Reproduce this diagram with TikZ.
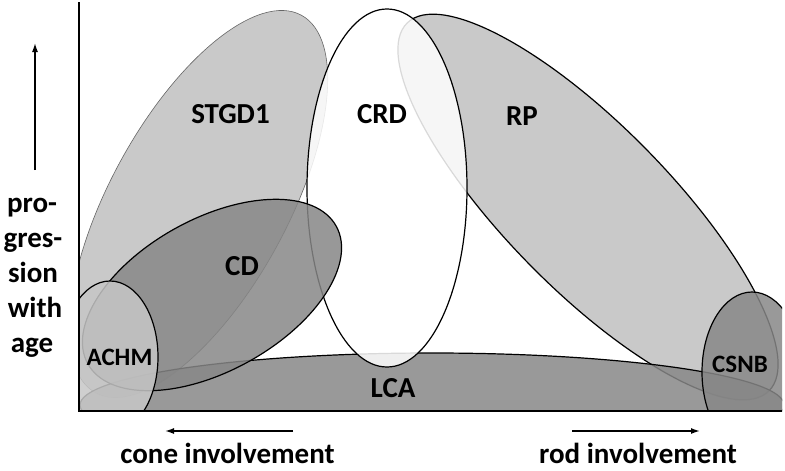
\documentclass[tikz,border=0pt]{standalone}
\usepackage{fontspec}
\setmainfont{Carlito}
\usetikzlibrary{arrows.meta}

\definecolor{paleshade}{gray}{0.75}
\definecolor{deepshade}{gray}{0.53}
\definecolor{achmshade}{gray}{0.78}

\tikzset{
	blob/.style={draw=black, line width=1.2pt, fill opacity=0.85},
	disease/.style={font=\fontsize{29}{33}\selectfont\bfseries, inner sep=0pt},
	smalldisease/.style={font=\fontsize{25}{29}\selectfont\bfseries, inner sep=0pt},
	axislabel/.style={font=\fontsize{29}{33}\selectfont\bfseries, inner sep=0pt, anchor=base},
	axisarrow/.style={line width=1.5pt, -{Latex[length=9pt,width=6pt]}},
}

\begin{document}
\begin{tikzpicture}[x=1pt,y=-1pt]
			\useasboundingbox (0,0) rectangle (785,471);
			\begin{scope}
				\clip (79,0) rectangle (782,411);
				\filldraw[fill=paleshade, draw=black!60, line width=0.6pt, fill opacity=0.85, rotate around={61.4:(198.5,204)}] (198.5,204) ellipse [x radius=215, y radius=89];
				\filldraw[blob, fill=paleshade, rotate around={-45.5:(588,207)}] (588,207) ellipse [x radius=258, y radius=82];
				\filldraw[blob, fill=deepshade] (432,405) ellipse [x radius=352, y radius=52];
				\filldraw[blob, fill=white] (387,188) ellipse [x radius=80, y radius=179];
				\filldraw[blob, fill=deepshade, rotate around={29:(212,295)}] (212,295) ellipse [x radius=142, y radius=76];
				\filldraw[blob, fill=achmshade] (110,357) ellipse [x radius=48, y radius=76];
				\filldraw[blob, fill=deepshade] (752,372) ellipse [x radius=50, y radius=80];
			\end{scope}
			\node[disease] (stgd) at (230.5,114) {STGD1};
			\node[disease] (crd) at (382,114) {CRD};
			\node[disease] (rp) at (522,116) {RP};
			\node[disease] (cd) at (242,266) {CD};
			\node[disease] (lca) at (393,388) {LCA};
			\node[smalldisease] (achm) at (119.5,357) {ACHM};
			\node[smalldisease] (csnb) at (740,364) {CSNB};
			\coordinate (ytop) at (79,2);
			\coordinate (origin) at (79,411);
			\coordinate (xend) at (782,411);
			\draw[line width=1.6pt] (ytop) -- (origin) -- (xend);
			\node[axislabel] (pro) at (32,212) {pro-};
			\node[axislabel] (gres) at (33,247) {gres-};
			\node[axislabel] (sion) at (33,282) {sion};
			\node[axislabel] (with) at (35,317) {with};
			\node[axislabel] (age) at (32,352) {age};
			\node[axislabel] (cone) at (227.5,463) {cone involvement};
			\node[axislabel] (rod) at (638,463) {rod involvement};
			\coordinate (agetail) at (35,170);
			\coordinate (agehead) at (35,43);
			\coordinate (conetail) at (293,431);
			\coordinate (conehead) at (165,431);
			\coordinate (rodtail) at (572,431);
			\coordinate (rodhead) at (700,431);
			\draw[axisarrow] (agetail) -- (agehead);
			\draw[axisarrow] (conetail) -- (conehead);
			\draw[axisarrow] (rodtail) -- (rodhead);
\end{tikzpicture}
\end{document}
